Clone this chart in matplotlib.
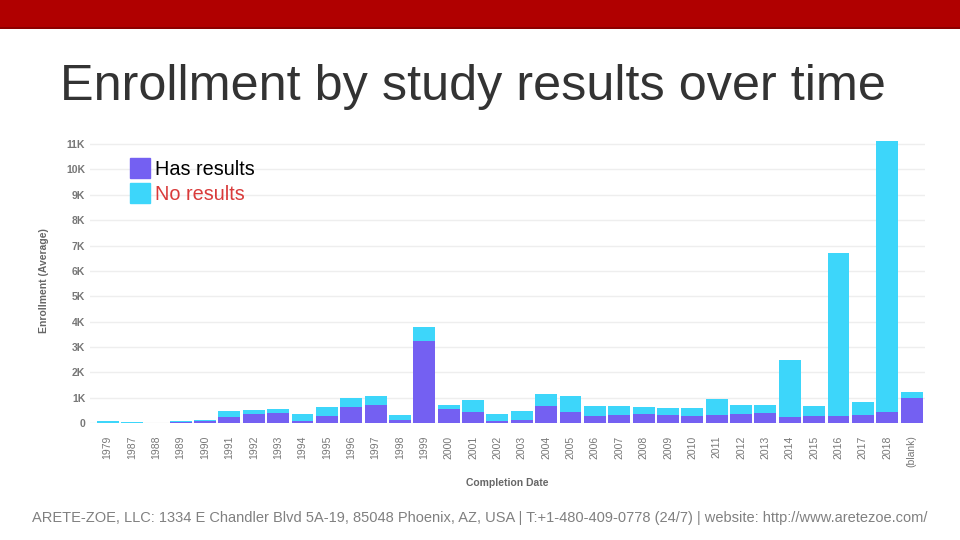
import numpy as np
import matplotlib.pyplot as plt
from matplotlib.lines import Line2D
from matplotlib.patches import Rectangle
from matplotlib.ticker import FuncFormatter

plt.rcParams['font.family'] = ['Liberation Sans', 'DejaVu Sans']

years = ['1979', '1987', '1988', '1989', '1990', '1991', '1992', '1993', '1994',
         '1995', '1996', '1997', '1998', '1999', '2000', '2001', '2002', '2003',
         '2004', '2005', '2006', '2007', '2008', '2009', '2010', '2011', '2012',
         '2013', '2014', '2015', '2016', '2017', '2018', '(blank)']
has_results = [10, 10, 0, 30, 60, 240, 350, 390, 80, 280, 640, 700, 100, 3250,
               540, 430, 70, 100, 680, 430, 280, 320, 370, 320, 280, 320, 350,
               410, 240, 280, 280, 320, 430, 990]
total = [60, 50, 0, 80, 110, 490, 530, 570, 340, 640, 990, 1060, 320, 3800,
         720, 890, 340, 490, 1130, 1050, 680, 680, 640, 600, 600, 930, 720,
         720, 2470, 680, 6700, 810, 11120, 1220]
no_results = [t - h for t, h in zip(total, has_results)]

purple = '#7460f2'
cyan = '#3dd6fa'
grey = '#777777'

fig = plt.figure(figsize=(9.6, 5.4), dpi=100)

# red band across the top of the slide
fig.patches.append(Rectangle((0, 1 - 27 / 540), 1, 27 / 540, transform=fig.transFigure,
                             facecolor='#b00000', edgecolor='none'))
fig.patches.append(Rectangle((0, 1 - 29 / 540), 1, 2 / 540, transform=fig.transFigure,
                             facecolor='#8c0000', edgecolor='none'))

fig.text(60 / 960, 1 - 100 / 540, 'Enrollment by study results over time',
         fontsize=36.3, color='#333333', ha='left', va='baseline')

ax = fig.add_axes([90 / 960, 1 - 423 / 540, 835 / 960, 284 / 540])
x = np.arange(len(years))
ax.bar(x, has_results, width=0.9, color=purple, zorder=2)
ax.bar(x, no_results, width=0.9, bottom=has_results, color=cyan, zorder=2)

ax.set_xlim(-0.72, len(years) - 0.45)
ax.set_ylim(0, 11200)
ax.set_yticks(np.arange(0, 11001, 1000))
ax.yaxis.set_major_formatter(FuncFormatter(lambda v, p: '0' if v == 0 else f'{int(v / 1000)}K'))
ax.set_xticks(x)
ax.set_xticklabels(years, rotation=90)
ax.tick_params(axis='both', length=0, labelsize=7.5, labelcolor=grey)
ax.tick_params(axis='x', pad=9)
for lab in ax.get_yticklabels():
    lab.set_fontweight('bold')
ax.grid(axis='y', color='#eeeeee', linewidth=1, zorder=0)
for s in ax.spines.values():
    s.set_visible(False)

ax.set_xlabel('Completion Date', fontsize=7.5, fontweight='bold', color='#666666', labelpad=8)
ax.set_ylabel('Enrollment (Average)', fontsize=7.5, fontweight='bold', color='#666666', labelpad=12)

handles = [Line2D([], [], marker='s', linestyle='none', markersize=14, color=purple),
           Line2D([], [], marker='s', linestyle='none', markersize=14, color=cyan)]
leg = ax.legend(handles, ['Has results', 'No results'], loc='upper left',
                bbox_to_anchor=(0.026, 0.955), frameon=False, fontsize=14.3,
                handletextpad=-0.2, labelspacing=0.32, borderaxespad=0)
leg.get_texts()[0].set_color('black')
leg.get_texts()[1].set_color('#d93a3a')

fig.text(480 / 960, 1 - 522 / 540,
         'ARETE-ZOE, LLC: 1334 E Chandler Blvd 5A-19, 85048 Phoenix, AZ, USA | '
         'T:+1-480-409-0778 (24/7) | website: http://www.aretezoe.com/',
         fontsize=10.5, color='#808080', ha='center', va='baseline')

fig.savefig('out.png', dpi=100)
